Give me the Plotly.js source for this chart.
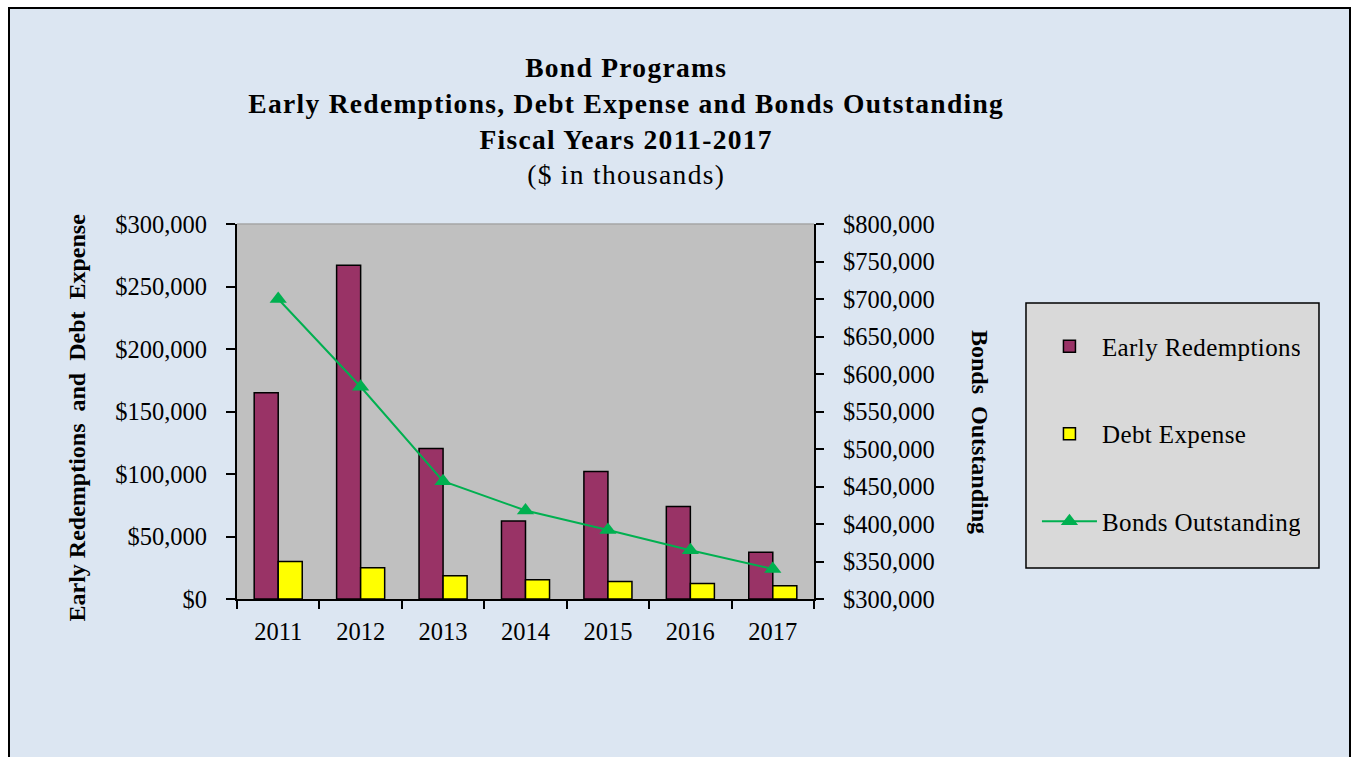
<!DOCTYPE html>
<html>
<head>
<meta charset="utf-8">
<script src="https://cdn.plot.ly/plotly-3.0.1.min.js"></script>
<style>
  html, body { margin: 0; padding: 0; background: #ffffff; }
  #frame { position: absolute; left: 8px; top: 7px; width: 1339px; height: 760px;
           background: #dce6f2; border-left: 2px solid #000; border-top: 2px solid #000; border-right: 2px solid #000; }
  #chart { position: absolute; left: 0; top: 0; width: 1351px; height: 757px; }
  #chart .gtitle { letter-spacing: 1.3px; }
  #chart .legendtext { letter-spacing: 0.4px; }
</style>
</head>
<body>
<div id="frame"></div>
<div id="chart"></div>
<script>
const years = ['2011', '2012', '2013', '2014', '2015', '2016', '2017'];
const earlyRedemptions = [165000, 267000, 120500, 62500, 102000, 74000, 37500];
const debtExpense = [30000, 25000, 18700, 15500, 14000, 12500, 10700];
const bondsOutstanding = [700000, 583000, 457000, 418000, 392000, 365000, 340000];
const leftTicks = [0, 50000, 100000, 150000, 200000, 250000, 300000];
const leftTickText = ['$0', '$50,000', '$100,000', '$150,000', '$200,000', '$250,000', '$300,000'];
const rightTicks = [300000, 350000, 400000, 450000, 500000, 550000, 600000, 650000, 700000, 750000, 800000];
const rightTickText = ['$300,000', '$350,000', '$400,000', '$450,000', '$500,000', '$550,000', '$600,000', '$650,000', '$700,000', '$750,000', '$800,000'];

const FONT = 'Liberation Serif, Times New Roman, serif';

const traces = [
  { type: 'bar', name: 'Early Redemptions', x: years, y: earlyRedemptions, yaxis: 'y',
    legendgroup: 'a', marker: { color: '#993366', line: { color: '#000000', width: 1.5 } } },
  { type: 'bar', name: 'Debt Expense', x: years, y: debtExpense, yaxis: 'y',
    legendgroup: 'b', marker: { color: '#ffff00', line: { color: '#000000', width: 1.5 } } },
  { type: 'scatter', mode: 'lines+markers', name: 'Bonds Outstanding', x: years, y: bondsOutstanding, yaxis: 'y2',
    legendgroup: 'c', line: { color: '#00b050', width: 2 },
    marker: { symbol: 'triangle-up', size: 15, color: '#00b050' } }
];

const layout = {
  width: 1351, height: 757,
  paper_bgcolor: 'rgba(0,0,0,0)',
  plot_bgcolor: '#c0c0c0',
  margin: { l: 237, r: 537, t: 224, b: 158, pad: 0 },
  font: { family: FONT, color: '#000000', size: 24.5 },
  showlegend: true,
  barmode: 'group', bargap: 0.417, bargroupgap: 0,
  title: {
    text: '<b>Bond Programs<br>Early Redemptions, Debt Expense and Bonds Outstanding<br>Fiscal Years 2011-2017</b><br>($ in thousands)',
    x: 0.4635, xanchor: 'center', y: 0.898, yanchor: 'top',
    font: { family: FONT, size: 27.5, color: '#000000' }
  },
  xaxis: {
    type: 'category', showgrid: false, showline: true, linecolor: '#000000', linewidth: 2,
    ticks: 'outside', tickson: 'boundaries', ticklen: 8, tickwidth: 2, tickcolor: '#000000',
    ticklabelstandoff: 10, tickfont: { family: FONT, size: 24.5 }
  },
  yaxis: {
    range: [0, 300000], tickvals: leftTicks, ticktext: leftTickText, showgrid: false, zeroline: false,
    showline: true, linecolor: '#000000', linewidth: 2,
    ticks: 'outside', ticklen: 9, tickwidth: 2, tickcolor: '#000000',
    ticklabelstandoff: 14, tickfont: { family: FONT, size: 24.5 }
  },
  yaxis2: {
    range: [300000, 800000], tickvals: rightTicks, ticktext: rightTickText, overlaying: 'y', side: 'right',
    showgrid: false, zeroline: false, showline: true, linecolor: '#000000', linewidth: 2,
    ticks: 'outside', ticklen: 8, tickwidth: 2, tickcolor: '#000000',
    ticklabelstandoff: 14, tickfont: { family: FONT, size: 24.5 }
  },
  legend: {
    x: 1.3864, xanchor: 'left', y: 0.735, yanchor: 'top',
    bgcolor: 'rgba(0,0,0,0)', borderwidth: 0, itemwidth: 55,
    traceorder: 'grouped', tracegroupgap: 52,
    font: { family: FONT, size: 25, color: '#000000' }
  },
  shapes: [
    { type: 'rect', xref: 'paper', yref: 'paper', x0: 1.3674, x1: 1.8752, y0: 0.0827, y1: 0.7893,
      fillcolor: '#d9d9d9', line: { color: '#000000', width: 1.5 }, layer: 'below' },
    { type: 'line', xref: 'paper', yref: 'paper', x0: 0, x1: 1, y0: 1, y1: 1,
      line: { color: '#a6a6a6', width: 1.5 } }
  ],
  annotations: [
    { text: '<b>Early Redemptions  and  Debt  Expense</b>', xref: 'paper', yref: 'paper',
      x: -0.279, y: 0.484, textangle: -90, showarrow: false, xanchor: 'center', yanchor: 'middle',
      font: { family: FONT, size: 24, color: '#000000' } },
    { text: '<b>Bonds  Outstanding</b>', xref: 'paper', yref: 'paper',
      x: 1.288, y: 0.445, textangle: 90, showarrow: false, xanchor: 'center', yanchor: 'middle',
      font: { family: FONT, size: 24, color: '#000000' } }
  ]
};

Plotly.newPlot('chart', traces, layout, { displayModeBar: false, staticPlot: true });
</script>
</body>
</html>
